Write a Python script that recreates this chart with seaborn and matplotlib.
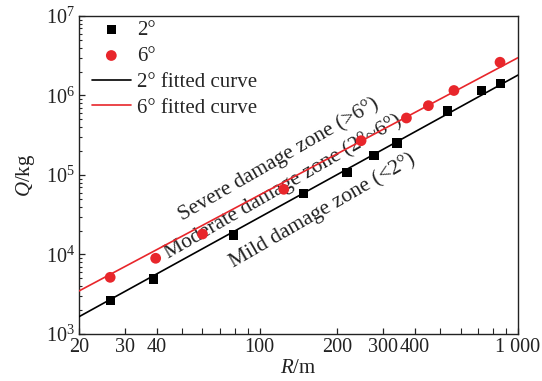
import numpy as np
import pandas as pd
import matplotlib
matplotlib.use("Agg")
import matplotlib.pyplot as plt
import seaborn as sns

# ---- data ----
R_2deg = [26.4, 38.8, 79.3, 148, 218, 277, 340, 532, 723, 857]
Q_2deg = [2650, 4920, 17600, 58900, 107000, 175000, 253000, 638000, 1160000, 1410000]
R_6deg = [26.4, 39.6, 60.1, 124, 247, 370, 450, 565, 852]
Q_6deg = [5160, 8960, 18100, 66100, 270000, 521000, 745000, 1156000, 2620000]
# fitted curves Q = k * R^a
fit_2deg = (7.76, 1.789)
fit_6deg = (19.7, 1.727)
R_fit = [20, 1000]

xticks = [20, 30, 40, 100, 200, 300, 400, 1000]
xticklabels = ["20", "30", "40", "100", "200", "300", "400", "1 000"]
xminor = [50, 60, 70, 80, 90, 500, 600, 700, 800, 900]

RED = "#e8262b"

sns.set_style("ticks")
plt.rcParams["font.family"] = ["Liberation Serif", "DejaVu Serif"]
plt.rcParams["mathtext.fontset"] = "custom"
plt.rcParams["mathtext.rm"] = "Liberation Serif"
plt.rcParams["mathtext.it"] = "Liberation Serif:italic"

fig = plt.figure(figsize=(5.42, 3.81), dpi=100)
ax = fig.add_axes([0.1458, 0.1234, 0.8099, 0.8346])
ax.set_xscale("log")
ax.set_yscale("log")

df2 = pd.DataFrame({"R": R_2deg, "Q": Q_2deg})
df6 = pd.DataFrame({"R": R_6deg, "Q": Q_6deg})
Rf = np.array(R_fit, dtype=float)
Rf = np.geomspace(Rf[0], Rf[1], 50)
dfit2 = pd.DataFrame({"R": Rf, "Q": fit_2deg[0] * Rf ** fit_2deg[1]})
dfit6 = pd.DataFrame({"R": Rf, "Q": fit_6deg[0] * Rf ** fit_6deg[1]})

sns.scatterplot(data=df2, x="R", y="Q", marker="s", s=45, color="black",
                edgecolor="none", label="2°", ax=ax, zorder=4)
sns.scatterplot(data=df6, x="R", y="Q", marker="o", s=60, color=RED,
                edgecolor="none", label="6°", ax=ax, zorder=4)
sns.lineplot(data=dfit2, x="R", y="Q", color="black", lw=1.2,
             label="2° fitted curve", ax=ax, zorder=3)
sns.lineplot(data=dfit6, x="R", y="Q", color=RED, lw=1.2,
             label="6° fitted curve", ax=ax, zorder=3)

ax.set_xlim(20, 1000)
ax.set_ylim(1e3, 1e7)

ax.set_xticks(xticks)
ax.set_xticklabels(xticklabels)
ax.set_xticks(xminor, minor=True)
ax.xaxis.set_minor_formatter(matplotlib.ticker.NullFormatter())
ax.yaxis.set_major_locator(matplotlib.ticker.LogLocator(base=10, numticks=10))
ax.yaxis.set_minor_locator(matplotlib.ticker.LogLocator(base=10, subs=np.arange(2, 10), numticks=20))
ax.yaxis.set_major_formatter(matplotlib.ticker.LogFormatterMathtext())

ax.tick_params(axis="both", which="major", direction="in", length=4, width=0.9,
               labelsize=14.5, colors="#222222", pad=3)
ax.tick_params(axis="both", which="minor", direction="in", length=2.5, width=0.8)
ax.tick_params(axis="x", which="minor", length=4)
for sp in ax.spines.values():
    sp.set_visible(True)
    sp.set_linewidth(1.0)
    sp.set_color("#222222")

ax.set_xlabel("$\\mathit{R}$/m", fontsize=15, labelpad=1, color="#222222")
ax.set_ylabel("$\\mathit{Q}$/kg", fontsize=15, labelpad=6, color="#222222")

leg = ax.legend(loc="upper left", bbox_to_anchor=(0.0, 1.025), frameon=False,
                fontsize=15, handlelength=1.9, handletextpad=0.3,
                labelspacing=0.3, borderaxespad=0.3, borderpad=0.3)

rot = 30
kw = dict(rotation=rot, rotation_mode="anchor", ha="left", va="baseline",
          fontsize=15.5, color="#222222", zorder=2)
ax.text(50.5, 26500, "Severe damage zone (>6°)", **kw)
ax.text(44.5, 8900, "Moderate damage zone (2°~6°)", **kw)
ax.text(79.5, 6900, "Mild damage zone (<2°)", **kw)

fig.savefig("out.png", dpi=100)
